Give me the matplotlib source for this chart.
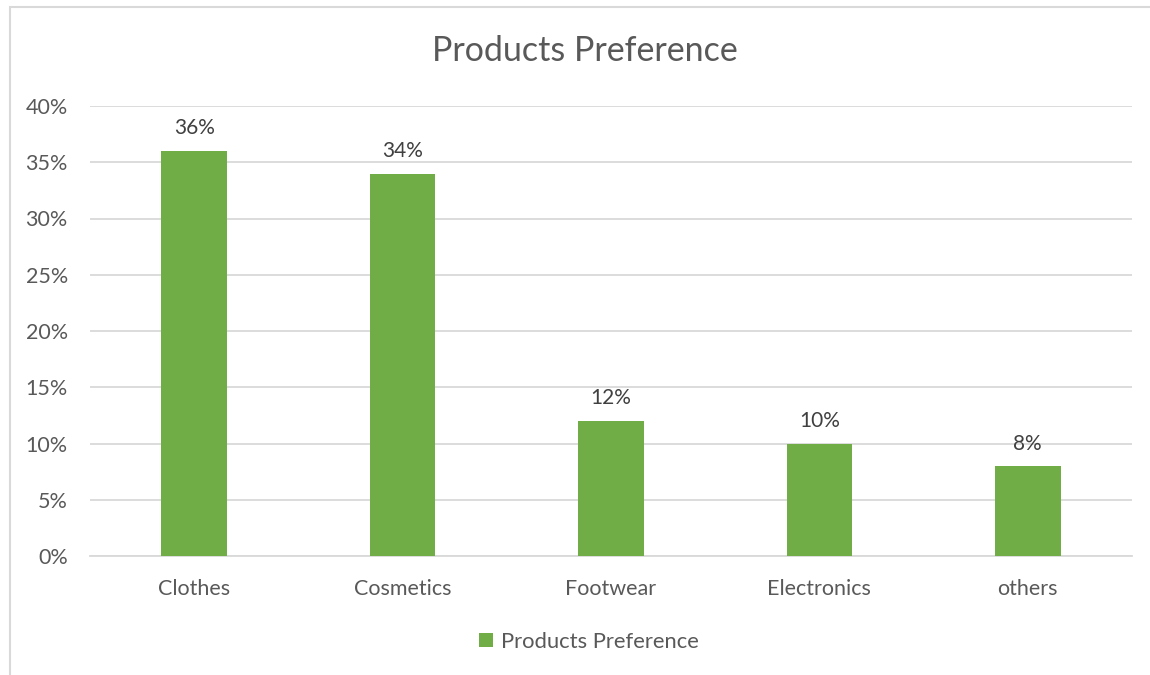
import matplotlib.pyplot as plt
from matplotlib.patches import Rectangle
from matplotlib.ticker import PercentFormatter

categories = ["Clothes", "Cosmetics", "Footwear", "Electronics", "others"]
preference = [36, 34, 12, 10, 8]
series_name = "Products Preference"

green = "#70AD47"
text_col = "#595959"
grid_col = "#D9D9D9"

plt.rcParams["font.family"] = ["Lato", "DejaVu Sans"]

fig = plt.figure(figsize=(11.5, 6.75), dpi=100)
ax = fig.add_axes([90 / 1150, 1 - 556 / 675, (1132 - 90) / 1150, 450 / 675])

# chart frame (only the left and top edges fall inside the image)
fig.patches.append(Rectangle((9.5 / 1150, -0.1), 1.2, 1 - 7.5 / 675 + 0.1,
                             transform=fig.transFigure, fill=False,
                             edgecolor=grid_col, linewidth=1.5))

x = range(len(categories))
bars = ax.bar(x, preference, width=0.315, color=green, label=series_name, zorder=3)

for b, v in zip(bars, preference):
    ax.annotate(f"{v}%", (b.get_x() + b.get_width() / 2, v),
                xytext=(0, 9), textcoords="offset points",
                ha="center", va="bottom", fontsize=15, color="#404040")

ax.set_xlim(-0.5, len(categories) - 0.5)
ax.set_ylim(0, 40)
ax.set_yticks(range(0, 41, 5))
ax.yaxis.set_major_formatter(PercentFormatter(decimals=0))
ax.set_xticks(list(x))
ax.set_xticklabels(categories)
ax.grid(axis="y", color=grid_col, linewidth=1.3, zorder=0)
for s in ["top", "right", "left"]:
    ax.spines[s].set_visible(False)
ax.spines["bottom"].set_color(grid_col)
ax.spines["bottom"].set_linewidth(1.3)
ax.tick_params(axis="both", length=0, labelsize=15.5, labelcolor=text_col)
ax.tick_params(axis="x", pad=16.5)
ax.tick_params(axis="y", pad=16)

fig.text(585 / 1150, 1 - 51 / 675, "Products Preference", ha="center", va="center",
         fontsize=24.5, color=text_col)

fig.legend(handles=[bars], labels=[series_name], loc="center",
           bbox_to_anchor=(589 / 1150, 1 - 642 / 675), frameon=False,
           fontsize=15.8, labelcolor=text_col, handlelength=0.62, handleheight=0.62,
           handletextpad=0.35)

fig.savefig("out.png", dpi=100)
